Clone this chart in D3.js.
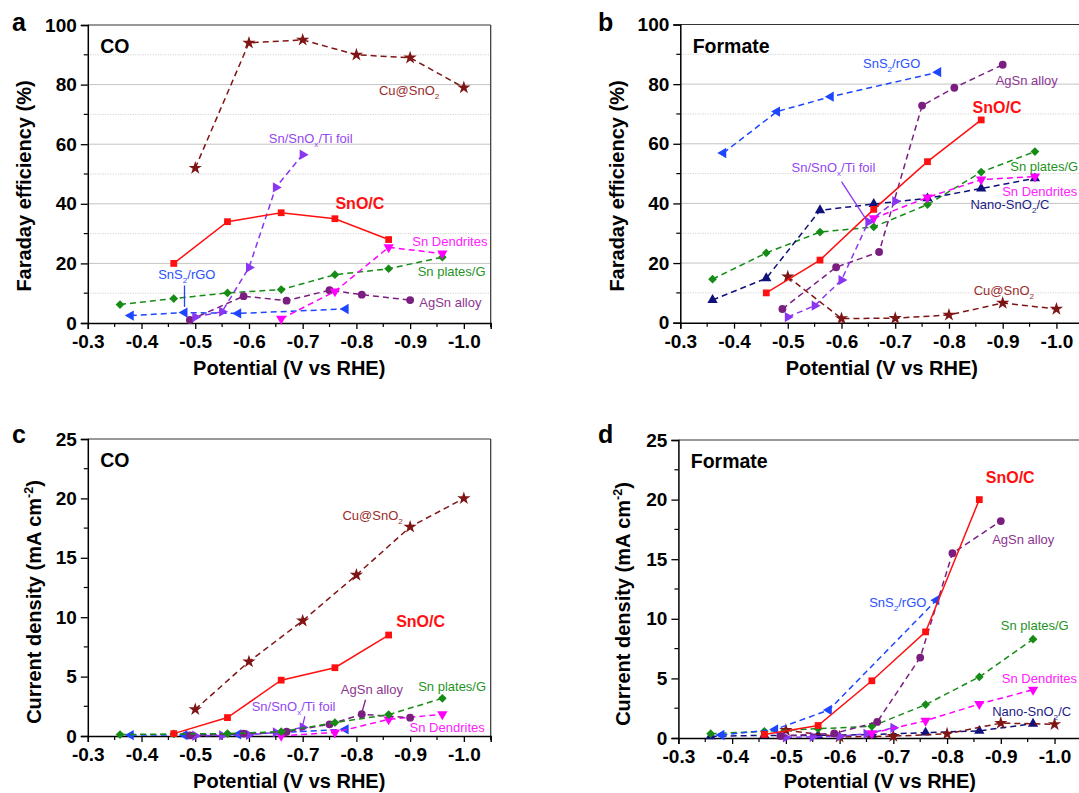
<!DOCTYPE html>
<html><head><meta charset="utf-8">
<script src="https://cdn.jsdelivr.net/npm/d3@7"></script>
<style>body{margin:0;background:#fff}svg{display:block}text{font-family:"Liberation Sans",Arial,sans-serif}</style>
</head><body><svg id="chart" width="1079" height="793"></svg>
<script>
// ---------- data ----------
const potentialTicks = [-0.3,-0.4,-0.5,-0.6,-0.7,-0.8,-0.9,-1.0];
const potentialMinor = [-0.35,-0.45,-0.55,-0.65,-0.75,-0.85,-0.95,-1.05];
const feTicks = [0,20,40,60,80,100];
const feMinor = [10,30,50,70,90];
const jTicks = [0,5,10,15,20,25];
const jMinor = [2.5,7.5,12.5,17.5,22.5];

const potSnOC   = [-0.46,-0.56,-0.66,-0.76,-0.86];
const potCu     = [-0.5,-0.6,-0.7,-0.8,-0.9,-1.0];
const potSnOx   = [-0.5,-0.55,-0.6,-0.65,-0.7];
const potAgSn   = [-0.49,-0.59,-0.67,-0.75,-0.81,-0.9];
const potDend   = [-0.66,-0.76,-0.86,-0.96];
const potPlates = [-0.36,-0.46,-0.56,-0.66,-0.76,-0.86,-0.96];
const potSnS2   = [-0.38,-0.48,-0.58,-0.78];
const potNano   = [-0.36,-0.46,-0.56,-0.66,-0.76,-0.86,-0.96];

// (a) Faraday efficiency, CO
const feCO_SnOC   = [20,34,37,35,28];
const feCO_Cu     = [52,94,95,90,89,79];
const feCO_SnOx   = [2,3.8,18.6,45.5,56.5];
const feCO_AgSn   = [1,9,7.5,11,9.5,7.7];
const feCO_Dend   = [1.4,10.6,25.4,23.3];
const feCO_Plates = [6.2,8.2,10.1,11.2,16.2,18.2,22.1];
const feCO_SnS2   = [2.5,3.5,3.2,4.7];

// (b) Faraday efficiency, formate
const feHC_SnOC   = [10,21,38,54,68];
const feHC_Cu     = [15.4,1.4,1.5,2.6,6.6,4.6];
const feHC_SnOx   = [1.9,5.7,14.3,33.8,40.7];
const feHC_AgSn   = [4.6,18.6,23.7,72.8,78.8,86.5];
const feHC_Dend   = [35,42,48,49];
const feHC_Plates = [14.6,23.4,30.4,32.1,39.6,50.5,57.4];
const feHC_SnS2   = [56.9,70.8,75.8,84];
const feHC_Nano   = [7.6,14.9,37.7,39.8,41.7,45,48.4];

// (c) current density, CO
const jCO_SnOC   = [0.2,1.55,4.7,5.75,8.5];
const jCO_Cu     = [2.24,6.26,9.7,13.55,17.6,20];
const jCO_SnOx   = [0.02,0.05,0.1,0.3,0.72];
const jCO_AgSn   = [0.05,0.2,0.36,0.98,1.83,1.54];
const jCO_Dend   = [0.02,0.3,1.4,1.83];
const jCO_Plates = [0.12,0.17,0.2,0.36,1.13,1.8,3.17];
const jCO_SnS2   = [0.08,0.08,0.13,0.56];

// (d) current density, formate
const jHC_SnOC   = [0.3,1.05,4.8,8.9,20];
const jHC_Cu     = [0.65,0.1,0.15,0.35,1.25,1.15];
const jHC_SnOx   = [0.05,0.1,0.15,0.35,0.85];
const jHC_AgSn   = [0.17,0.38,1.35,6.75,15.5,18.2];
const jHC_Dend   = [0.4,1.45,2.85,4.05];
const jHC_Plates = [0.36,0.56,0.78,0.98,2.8,5.12,8.29];
const jHC_SnS2   = [0.25,0.72,2.35,11.56];
const jHC_Nano   = [0.14,0.22,0.22,0.28,0.45,0.6,1.2];

// ---------- styles ----------
const style = {
  'SnO/C':   {color:'#ff1010', text:'#ff1010', sym:'square', rot:0, dash:null},
  'Cu@SnO2': {color:'#7f1414', text:'#9a2c2c', sym:'star', rot:0, dash:'6,4'},
  'SnOx':    {color:'#8a35f0', text:'#9446f2', sym:'tri', rot:90, dash:'6,4'},
  'AgSn':    {color:'#7a1f80', text:'#8c3590', sym:'circle', rot:0, dash:'6,4'},
  'Dend':    {color:'#ff00ff', text:'#ff22ff', sym:'tri', rot:180, dash:'6,4'},
  'Plates':  {color:'#168c16', text:'#1f941f', sym:'diamond', rot:45, dash:'6,4'},
  'SnS2':    {color:'#1e46ff', text:'#2a50ff', sym:'tri', rot:-90, dash:'6,4'},
  'Nano':    {color:'#10107a', text:'#1c1c86', sym:'tri', rot:0, dash:'6,4'}
};
const symMap = {square:[d3.symbolSquare,46], star:[d3.symbolStar,55], tri:[d3.symbolTriangle,46], circle:[d3.symbolCircle,48], diamond:[d3.symbolSquare,38]};

const panels = [
  {letter:'a', tag:'CO', x0:87.8, x1:490.7, yB:323, yT:25, ymax:100, ticks:feTicks, minor:feMinor, grid:true,
   lx:12, ly:31, ytitle:'Faraday efficiency (%)', ytx:31, yty:186, xty:375, maxPot:-1.05,
   series:[['Plates',potPlates,feCO_Plates],['SnS2',potSnS2,feCO_SnS2],['AgSn',potAgSn,feCO_AgSn],['Dend',potDend,feCO_Dend],
           ['SnOx',potSnOx,feCO_SnOx],['Cu@SnO2',potCu,feCO_Cu],['SnO/C',potSnOC,feCO_SnOC]],
   labels:[['Cu@SnO_{2}',-0.842,76.5,'Cu@SnO2'],['Sn/SnO_{x}/Ti foil',-0.637,60.4,'SnOx'],['SnO/C',-0.761,38.3,'SnO/C'],
           ['Sn Dendrites',-0.904,25.8,'Dend'],['Sn plates/G',-0.914,15.8,'Plates'],['AgSn alloy',-0.917,5.4,'AgSn'],['SnS_{2}/rGO',-0.431,14.8,'SnS2']],
   pointers:[[-0.48,12.6,-0.48,5.4,'SnS2']]},
  {letter:'b', tag:'Formate', x0:680.3, x1:1083.3, yB:322.7, yT:24.5, ymax:100, ticks:feTicks, minor:feMinor, grid:true,
   lx:598, ly:31, ytitle:'Faraday efficiency (%)', ytx:624, yty:186, xty:375, maxPot:-1.0,
   series:[['Cu@SnO2',potCu,feHC_Cu],['Plates',potPlates,feHC_Plates],['Nano',potNano,feHC_Nano],['Dend',potDend,feHC_Dend],
           ['AgSn',potAgSn,feHC_AgSn],['SnOx',potSnOx,feHC_SnOx],['SnS2',potSnS2,feHC_SnS2],['SnO/C',potSnOC,feHC_SnOC]],
   labels:[['SnS_{2}/rGO',-0.640,85.4,'SnS2'],['AgSn alloy',-0.887,79.7,'AgSn'],['SnO/C',-0.844,70.3,'SnO/C'],
           ['Sn plates/G',-0.914,50.9,'Plates'],['Sn Dendrites',-0.899,42.5,'Dend'],['Nano-SnO_{2}/C',-0.840,38.1,'Nano'],
           ['Cu@SnO_{2}',-0.846,9.3,'Cu@SnO2'],['Sn/SnO_{x}/Ti foil',-0.507,50.5,'SnOx']],
   pointers:[[-0.600,47.3,-0.646,34.6,'SnOx']]},
  {letter:'c', tag:'CO', x0:87.8, x1:490.7, yB:736, yT:439, ymax:25, ticks:jTicks, minor:jMinor, grid:false,
   lx:12, ly:443, ytitle:'Current density (mA cm^{-2})', ytx:41, yty:602, xty:788, maxPot:-1.05,
   series:[['SnS2',potSnS2,jCO_SnS2],['Dend',potDend,jCO_Dend],['SnOx',potSnOx,jCO_SnOx],['AgSn',potAgSn,jCO_AgSn],
           ['Plates',potPlates,jCO_Plates],['Cu@SnO2',potCu,jCO_Cu],['SnO/C',potSnOC,jCO_SnOC]],
   labels:[['Cu@SnO_{2}',-0.774,18.18,'Cu@SnO2'],['SnO/C',-0.874,9.18,'SnO/C'],['Sn plates/G',-0.915,3.79,'Plates'],
           ['AgSn alloy',-0.771,3.54,'AgSn'],['Sn/SnO_{x}/Ti foil',-0.605,2.1,'SnOx'],['Sn Dendrites',-0.899,0.34,'Dend']],
   pointers:[[-0.817,3.05,-0.810,1.95,'AgSn'],[-0.704,1.65,-0.700,0.9,'SnOx']]},
  {letter:'d', tag:'Formate', x0:678.4, x1:1081.4, yB:738, yT:440, ymax:25, ticks:jTicks, minor:jMinor, grid:false,
   lx:598, ly:443, ytitle:'Current density (mA cm^{-2})', ytx:630, yty:604, xty:788, maxPot:-1.0,
   series:[['Nano',potNano,jHC_Nano],['Cu@SnO2',potCu,jHC_Cu],['SnOx',potSnOx,jHC_SnOx],['Dend',potDend,jHC_Dend],
           ['Plates',potPlates,jHC_Plates],['SnS2',potSnS2,jHC_SnS2],['AgSn',potAgSn,jHC_AgSn],['SnO/C',potSnOC,jHC_SnOC]],
   labels:[['SnO/C',-0.872,21.39,'SnO/C'],['AgSn alloy',-0.884,16.28,'AgSn'],['SnS_{2}/rGO',-0.655,10.99,'SnS2'],
           ['Sn plates/G',-0.900,9.06,'Plates'],['Sn Dendrites',-0.902,4.61,'Dend'],['Nano-SnO_{2}/C',-0.884,1.85,'Nano']],
   pointers:[]}
];

const svg = d3.select('#chart');

function rich(sel, str, fs) {
  const parts = str.split(/([_^]\{[^}]*\})/).filter(s => s.length);
  let cur = 0;
  for (const p of parts) {
    let target = 0, txt = p, small = false;
    if (p[0] === '_' || p[0] === '^') {
      txt = p.slice(2, -1);
      target = p[0] === '_' ? 0.32 * fs : -0.42 * fs;
      small = true;
    }
    const ts = sel.append('tspan').text(txt).attr('dy', target - cur);
    if (small) ts.attr('font-size', (fs * 0.62).toFixed(1));
    cur = target;
  }
}

panels.forEach(P => {
  const x = d3.scaleLinear().domain([-0.3, -1.05]).range([P.x0, P.x1]);
  const y = d3.scaleLinear().domain([0, P.ymax]).range([P.yB, P.yT]);
  const g = svg.append('g');

  // grid
  if (P.grid) {
    g.selectAll('.gmaj').data(P.ticks.filter(t => t > 0 && t < P.ymax)).join('line')
      .attr('x1', P.x0).attr('x2', P.x1).attr('y1', d => y(d)).attr('y2', d => y(d))
      .attr('stroke', '#c4c4c4').attr('stroke-width', 1);
    g.selectAll('.gmin').data(P.minor).join('line')
      .attr('x1', P.x0).attr('x2', P.x1).attr('y1', d => y(d)).attr('y2', d => y(d))
      .attr('stroke', '#bcbcbc').attr('stroke-width', 0.8).attr('stroke-dasharray', '1,1.5');
  }
  // frame top/right
  g.append('line').attr('x1', P.x0).attr('x2', P.x1).attr('y1', P.yT).attr('y2', P.yT).attr('stroke', '#333').attr('stroke-width', 1.2);
  g.append('line').attr('x1', P.x1).attr('x2', P.x1).attr('y1', P.yT).attr('y2', P.yB).attr('stroke', '#333').attr('stroke-width', 1.2);

  // axes
  const xAxis = d3.axisBottom(x).tickValues(potentialTicks).tickFormat(d3.format('.1f')).tickSize(6).tickPadding(4);
  const xa = g.append('g').attr('transform', `translate(0,${P.yB})`).call(xAxis);
  xa.select('.domain').attr('stroke', '#000').attr('stroke-width', 1.5);
  xa.selectAll('.tick line').attr('stroke', '#000').attr('stroke-width', 1.3);
  xa.selectAll('.tick text').attr('font-size', 19).attr('font-weight', 'bold').attr('fill', '#000')
    .attr('font-family', '"Liberation Sans",Arial,sans-serif').attr('dy', '0.78em')
    .text(d => d3.format('.1f')(d).replace('−', '-'));
  g.append('g').selectAll('line').data(potentialMinor.filter(v => v >= P.maxPot - 0.001)).join('line')
    .attr('x1', d => x(d)).attr('x2', d => x(d)).attr('y1', P.yB).attr('y2', P.yB + 4)
    .attr('stroke', '#000').attr('stroke-width', 1.2);

  const yAxis = d3.axisLeft(y).tickValues(P.ticks).tickSize(7).tickPadding(4);
  const ya = g.append('g').attr('transform', `translate(${P.x0},0)`).call(yAxis);
  ya.select('.domain').attr('stroke', '#000').attr('stroke-width', 1.5);
  ya.selectAll('.tick line').attr('stroke', '#000').attr('stroke-width', 1.3);
  ya.selectAll('.tick text').attr('font-size', 19).attr('font-weight', 'bold').attr('fill', '#000')
    .attr('font-family', '"Liberation Sans",Arial,sans-serif');
  g.append('g').selectAll('line').data(P.minor).join('line')
    .attr('x1', P.x0 - 4).attr('x2', P.x0).attr('y1', d => y(d)).attr('y2', d => y(d))
    .attr('stroke', '#000').attr('stroke-width', 1.2);

  // titles
  g.append('text').attr('x', (P.x0 + P.x1) / 2).attr('y', P.xty).attr('text-anchor', 'middle')
    .attr('font-size', 20).attr('font-weight', 'bold').text('Potential (V vs RHE)');
  const yt = g.append('text').attr('transform', `translate(${P.ytx},${P.yty}) rotate(-90)`)
    .attr('text-anchor', 'middle').attr('font-size', 20).attr('font-weight', 'bold');
  rich(yt, P.ytitle, 20);
  g.append('text').attr('x', P.lx).attr('y', P.ly).attr('font-size', 25).attr('font-weight', 'bold').text(P.letter);
  g.append('text').attr('x', x(-0.323)).attr('y', P.yT + 28).attr('font-size', 19.5).attr('font-weight', 'bold').text(P.tag);

  // series
  const line = d3.line().x(d => x(d[0])).y(d => y(d[1]));
  P.series.forEach(([key, pots, vals]) => {
    const s = style[key];
    const pts = pots.map((p, i) => [p, vals[i]]);
    g.append('path').datum(pts).attr('d', line).attr('fill', 'none')
      .attr('stroke', s.color).attr('stroke-width', 1.5)
      .attr('stroke-dasharray', s.dash);
    const [sym, size] = symMap[s.sym];
    g.append('g').selectAll('path').data(pts).join('path')
      .attr('d', d3.symbol().type(sym).size(size)())
      .attr('transform', d => `translate(${x(d[0])},${y(d[1])}) rotate(${s.rot})`)
      .attr('fill', s.color);
  });

  // pointers
  P.pointers.forEach(([p1, v1, p2, v2, key]) => {
    g.append('line').attr('x1', x(p1)).attr('y1', y(v1)).attr('x2', x(p2)).attr('y2', y(v2))
      .attr('stroke', style[key].color).attr('stroke-width', 1.3);
  });

  // labels
  P.labels.forEach(([txt, p, v, key]) => {
    const bold = key === 'SnO/C';
    const fs = bold ? 16 : 13;
    const t = g.append('text').attr('x', x(p)).attr('y', y(v)).attr('font-size', fs)
      .attr('font-weight', bold ? 'bold' : 'normal').attr('fill', style[key].text);
    rich(t, txt, fs);
  });
});
</script></body></html>
